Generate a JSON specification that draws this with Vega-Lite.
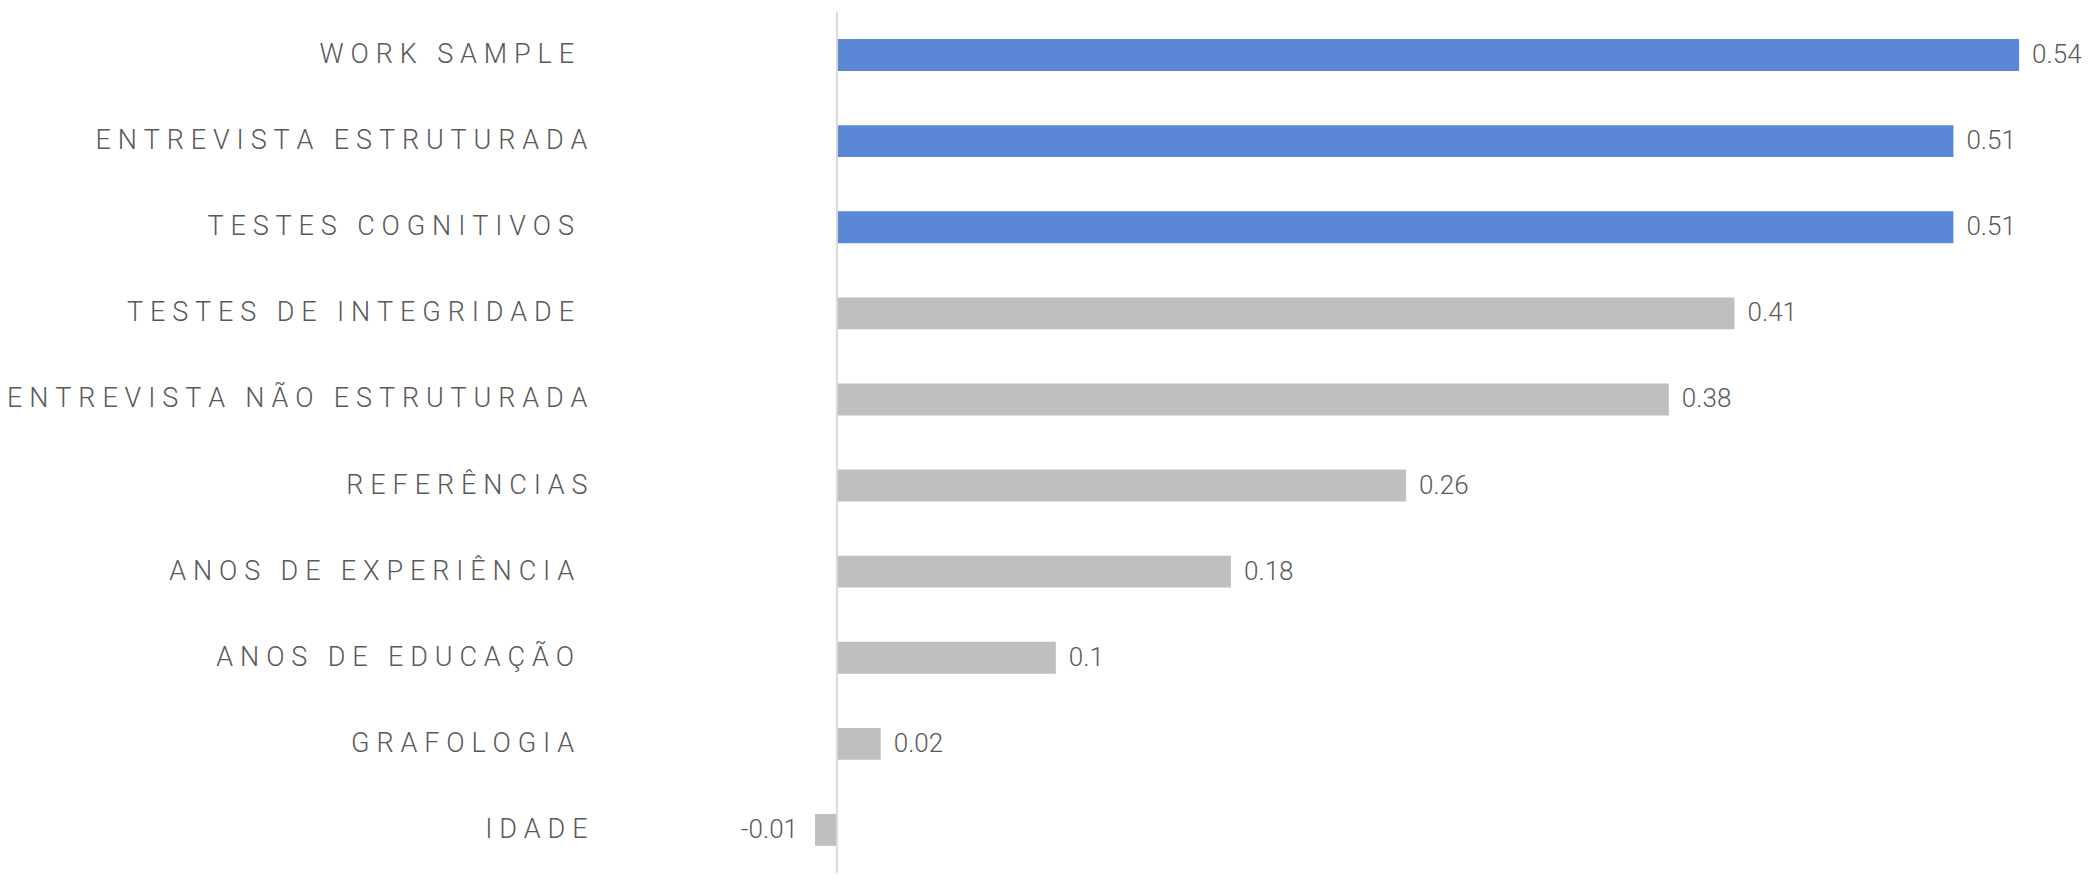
{
  "$schema": "https://vega.github.io/schema/vega-lite/v6.json",
  "width": 1423,
  "height": 861,
  "autosize": {"type": "none"},
  "padding": {"left": 618, "top": 12, "right": 54, "bottom": 9},
  "background": "white",
  "config": {"view": {"stroke": null}, "font": "Roboto"},
  "layer": [
    {
      "data": {"name": "metodos"},
      "layer": [
        {
          "mark": {"type": "bar", "height": {"band": 0.37}},
          "encoding": {
            "color": {
              "field": "grupo",
              "type": "nominal",
              "scale": {"domain": ["destaque", "outros"], "range": ["#5a87d6", "#bfbfbf"]},
              "legend": null
            }
          }
        },
        {
          "transform": [{"filter": "datum.valor >= 0"}],
          "mark": {"type": "text", "align": "left", "baseline": "middle", "dx": 13, "fontSize": 26, "fontWeight": 300, "color": "#595959"},
          "encoding": {"text": {"field": "valor", "type": "nominal"}}
        },
        {
          "transform": [{"filter": "datum.valor < 0"}],
          "mark": {"type": "text", "align": "right", "baseline": "middle", "dx": -17, "fontSize": 26, "fontWeight": 300, "color": "#595959"},
          "encoding": {"text": {"field": "valor", "type": "nominal"}}
        }
      ],
      "encoding": {
        "y": {
          "field": "metodo",
          "type": "nominal",
          "sort": null,
          "scale": {"paddingInner": 0, "paddingOuter": 0},
          "axis": {
            "title": null,
            "domain": false,
            "ticks": false,
            "labelFont": "Roboto",
            "labelFontWeight": 300,
            "labelFontSize": 27,
            "labelColor": "#595959",
            "labelPadding": 31,
            "labelLimit": 800,
            "labelExpr": "replace(join(split(datum.label, ''), '\u2005'), regexp(' ', 'g'), '\u00a0') + '\u200b'"
          }
        },
        "x": {
          "field": "valor",
          "type": "quantitative",
          "scale": {"domain": [-0.1, 0.55], "nice": false},
          "axis": null
        }
      }
    },
    {
      "data": {"values": [{"ref": 0}]},
      "mark": {"type": "rule", "color": "#d9d9d9", "strokeWidth": 2},
      "encoding": {
        "x": {"field": "ref", "type": "quantitative"}
      }
    }
  ],
  "datasets": {
    "metodos": [
      {"metodo": "WORK SAMPLE ", "valor": 0.54, "grupo": "destaque"},
      {"metodo": "ENTREVISTA ESTRUTURADA", "valor": 0.51, "grupo": "destaque"},
      {"metodo": "TESTES COGNITIVOS ", "valor": 0.51, "grupo": "destaque"},
      {"metodo": "TESTES DE INTEGRIDADE ", "valor": 0.41, "grupo": "outros"},
      {"metodo": "ENTREVISTA NÃO ESTRUTURADA", "valor": 0.38, "grupo": "outros"},
      {"metodo": "REFERÊNCIAS", "valor": 0.26, "grupo": "outros"},
      {"metodo": "ANOS DE EXPERIÊNCIA ", "valor": 0.18, "grupo": "outros"},
      {"metodo": "ANOS DE EDUCAÇÃO ", "valor": 0.1, "grupo": "outros"},
      {"metodo": "GRAFOLOGIA ", "valor": 0.02, "grupo": "outros"},
      {"metodo": "IDADE", "valor": -0.01, "grupo": "outros"}
    ]
  }
}
